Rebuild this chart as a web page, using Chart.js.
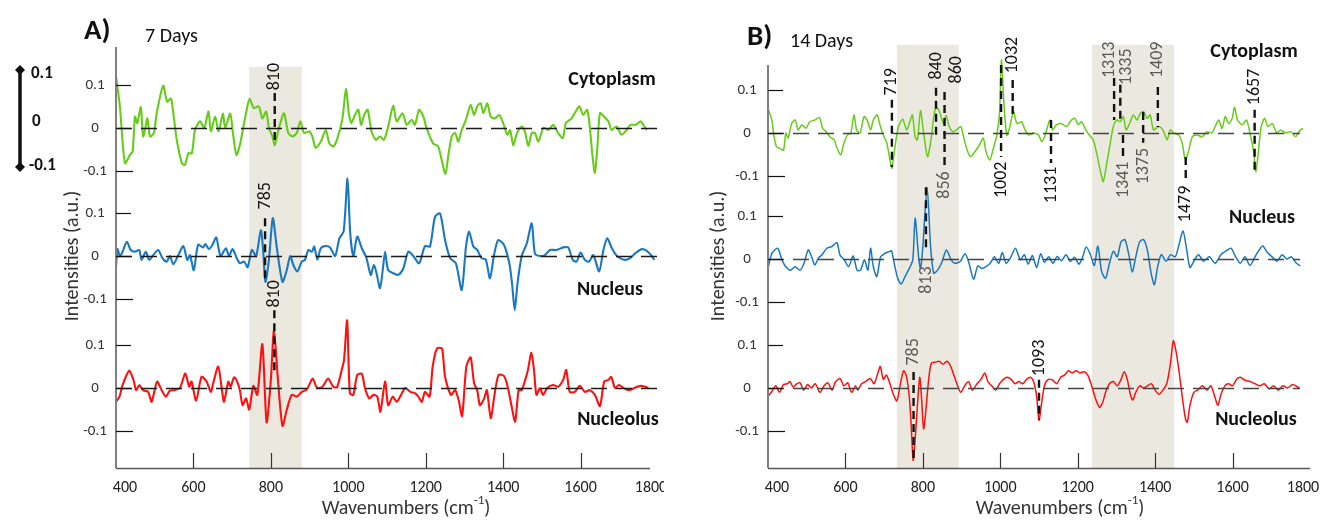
<!DOCTYPE html>
<html><head><meta charset="utf-8">
<script src="https://cdn.jsdelivr.net/npm/chart.js@4/dist/chart.umd.min.js"></script>
<style>
html,body{margin:0;padding:0;background:#fff;width:1328px;height:520px;overflow:hidden}
.wrap{position:absolute;top:0;width:664px;height:520px}
#wa{left:0}#wb{left:664px}
canvas{display:block}
</style></head><body>
<div class="wrap" id="wa"><canvas id="ca" width="664" height="520"></canvas></div>
<div class="wrap" id="wb"><canvas id="cb" width="664" height="520"></canvas></div>
<script>
// ---------- DATA (wavenumber cm-1, intensity a.u.) ----------
const xTicks = [400,600,800,1000,1200,1400,1600,1800];
const tickSteps = [-0.1, 0, 0.1];
const tickLabels = ['-0.1','0','0.1'];
const traceNames = ['Cytoplasm','Nucleus','Nucleolus'];

// Panel A – 7 days
const cytoA = [[400,.12],[410,.05],[423,-.082],[436,-.063],[443,-.055],[449,.026],[455,.011],[464,.048],[470,-.02],[476,0],[481,.022],[488,-.02],[498,-.012],[505,.034],[522,.098],[532,.061],[542,.068],[548,.034],[557,-.028],[570,-.082],[578,-.086],[587,-.059],[596,-.059],[604,-.005],[617,.015],[628,0],[639,.038],[645,-.008],[656,.026],[665,-.008],[676,.033],[682,0],[695,.033],[702,-.012],[711,-.063],[721,-.036],[734,.026],[745,.067],[756,.046],[769,.05],[778,.022],[788,.038],[795,0],[804,-.02],[810,-.04],[821,0],[834,.034],[845,-.012],[856,-.02],[867,-.012],[876,.015],[886,-.012],[899,-.008],[907,-.02],[916,-.047],[929,-.032],[942,-.005],[951,-.036],[962,-.043],[972,-.024],[985,.022],[994,.09],[1002,.03],[1008,.011],[1017,.03],[1026,.042],[1033,.007],[1041,.03],[1050,.042],[1060,-.008],[1071,-.028],[1082,-.02],[1092,-.028],[1103,.003],[1116,.051],[1125,.015],[1140,.034],[1151,.007],[1164,.019],[1172,.007],[1183,.042],[1194,.026],[1202,0],[1219,-.036],[1232,-.043],[1241,-.074],[1251,-.107],[1258,-.067],[1267,-.02],[1276,-.012],[1284,-.032],[1293,-.005],[1304,.019],[1316,.053],[1325,.03],[1333,.05],[1342,.057],[1349,.034],[1359,.057],[1368,.026],[1379,.022],[1390,.03],[1400,.011],[1411,-.016],[1418,-.005],[1426,-.04],[1436,-.012],[1448,.003],[1456,-.008],[1465,-.042],[1474,-.012],[1482,-.012],[1491,-.032],[1504,0],[1517,-.005],[1529,.007],[1542,-.012],[1554,-.024],[1562,.011],[1577,.022],[1590,.042],[1597,.05],[1607,.03],[1617,.042],[1624,0],[1631,-.067],[1637,-.105],[1643,-.051],[1650,.034],[1661,.026],[1672,.015],[1680,-.005],[1693,.003],[1706,-.016],[1719,-.005],[1729,.007],[1743,.007],[1755,.015],[1762,.007],[1771,-.005]];
const nucA = [[400,-.025],[404,.016],[410,0],[417,.01],[428,.033],[438,.014],[449,.01],[460,.014],[466,-.009],[477,.01],[486,-.009],[496,.002],[509,.014],[520,-.005],[531,-.013],[539,0],[548,-.019],[561,.002],[574,.023],[584,-.009],[591,.002],[601,-.033],[612,.026],[625,.02],[631,.028],[640,.016],[649,.026],[659,.043],[670,0],[684,.018],[692,0],[701,.016],[712,-.005],[720,-.017],[731,-.013],[740,-.026],[751,.014],[762,0],[774,.06],[780,.014],[786,-.06],[795,-.009],[805,.088],[815,.022],[830,-.06],[841,-.033],[850,0],[858,-.021],[868,-.036],[880,-.013],[888,-.009],[897,.014],[906,.01],[912,.022],[920,-.008],[929,.018],[940,.023],[953,.02],[966,0],[977,.041],[988,.057],[998,.18],[1005,.053],[1013,0],[1023,.045],[1035,.018],[1047,-.005],[1058,-.044],[1066,-.021],[1073,-.04],[1082,-.075],[1089,-.033],[1095,.01],[1103,-.033],[1116,-.04],[1129,-.044],[1142,-.029],[1155,.01],[1168,0],[1183,-.017],[1198,.023],[1211,.022],[1224,.091],[1237,.099],[1250,.037],[1263,-.005],[1278,-.017],[1293,-.079],[1304,.022],[1312,.057],[1323,.022],[1333,.014],[1344,-.005],[1355,-.008],[1366,-.052],[1376,0],[1387,.037],[1402,.026],[1416,-.017],[1423,-.064],[1430,-.126],[1437,-.064],[1448,0],[1461,.029],[1474,.076],[1482,.006],[1495,0],[1508,.002],[1521,.014],[1538,.014],[1555,.02],[1568,.02],[1580,-.009],[1590,-.013],[1600,.008],[1611,-.009],[1622,-.013],[1633,.002],[1648,-.036],[1659,.014],[1669,.041],[1680,.02],[1692,.002],[1702,-.005],[1715,-.009],[1728,-.005],[1741,.006],[1758,.016],[1771,.012],[1784,0],[1790,-.009]];
const ncloA = [[400,-.032],[409,-.02],[417,.007],[434,.04],[445,.019],[452,-.005],[460,.007],[470,-.005],[483,-.009],[492,-.032],[506,.015],[518,-.005],[529,-.02],[539,-.006],[550,-.005],[565,0],[579,.034],[589,.003],[595,.015],[607,-.029],[621,.026],[634,.015],[645,-.009],[651,.011],[664,.05],[673,0],[679,-.032],[690,.015],[696,.003],[705,.025],[713,.015],[720,-.005],[727,-.04],[736,-.024],[744,-.05],[755,.005],[765,-.016],[778,.102],[789,-.08],[800,.019],[808,.133],[819,.011],[830,-.088],[841,-.051],[854,-.016],[867,-.02],[880,-.009],[893,-.003],[908,.022],[918,.002],[927,0],[935,.005],[948,.022],[961,.003],[971,.002],[983,.042],[989,.065],[997,.157],[1004,-.012],[1013,-.016],[1023,.03],[1035,.033],[1043,0],[1054,-.024],[1065,-.016],[1075,-.02],[1083,-.055],[1095,.015],[1103,-.04],[1115,-.02],[1125,-.032],[1134,-.02],[1147,0],[1160,-.009],[1172,-.012],[1181,-.02],[1190,-.032],[1198,-.009],[1210,-.02],[1218,.05],[1229,.092],[1242,.092],[1250,.026],[1265,-.016],[1276,-.005],[1285,-.028],[1294,-.065],[1305,.05],[1316,.071],[1325,.011],[1333,-.005],[1340,-.04],[1351,-.024],[1358,-.005],[1368,-.07],[1377,-.02],[1388,.03],[1402,.028],[1412,.002],[1422,-.043],[1431,-.078],[1440,-.005],[1448,-.005],[1457,.019],[1464,.042],[1473,.082],[1480,.038],[1486,-.016],[1495,0],[1503,-.016],[1514,0],[1529,.007],[1542,.003],[1555,.019],[1563,.042],[1572,-.009],[1585,-.009],[1598,.005],[1611,-.009],[1624,-.005],[1637,-.016],[1650,-.042],[1661,.015],[1672,.019],[1679,.026],[1689,0],[1699,.007],[1711,0],[1724,-.005],[1739,0],[1754,.005],[1767,.003],[1775,0]];

// Panel B – 14 days
const cytoB = [[400,.057],[410,.03],[415,-.005],[422,-.032],[431,-.036],[440,-.04],[446,0],[452,-.012],[461,.022],[470,.03],[478,.007],[487,.019],[498,.011],[508,.026],[521,.03],[533,.036],[541,.011],[550,.003],[560,-.009],[571,-.016],[577,-.032],[588,-.051],[596,-.024],[605,-.005],[614,0],[622,.042],[629,.007],[638,0],[648,.038],[656,.03],[665,.007],[672,.03],[682,.042],[689,.019],[698,-.005],[707,-.024],[715,-.063],[720,-.082],[728,-.032],[737,.015],[748,.032],[758,.007],[765,.022],[773,.042],[780,-.009],[786,-.016],[794,.052],[801,.007],[812,-.055],[821,-.016],[827,.03],[834,.06],[843,.05],[853,.022],[860,.04],[868,.015],[877,.003],[887,.007],[898,.015],[904,-.005],[913,-.036],[923,-.055],[935,-.043],[946,-.028],[956,-.012],[963,-.043],[973,-.063],[982,-.036],[991,-.005],[998,.046],[1003,.17],[1010,.061],[1017,-.005],[1025,.015],[1034,.05],[1043,.022],[1055,.026],[1064,.007],[1073,-.005],[1086,0],[1099,-.005],[1107,-.02],[1116,-.005],[1128,.03],[1135,.007],[1145,.019],[1158,.022],[1171,.015],[1184,.03],[1193,.034],[1201,.019],[1210,.026],[1221,.007],[1230,-.005],[1240,-.016],[1249,-.047],[1258,-.086],[1266,-.113],[1275,-.071],[1284,-.024],[1292,.015],[1301,.03],[1310,.026],[1318,.038],[1325,.007],[1334,.022],[1344,.042],[1353,.03],[1362,.046],[1370,.05],[1379,.034],[1387,.042],[1396,.007],[1409,.015],[1420,.007],[1431,-.016],[1439,.007],[1448,0],[1461,-.005],[1470,-.024],[1478,-.063],[1487,-.04],[1496,-.009],[1509,-.005],[1521,-.009],[1534,.003],[1547,0],[1555,.015],[1564,.03],[1573,.011],[1581,.038],[1590,.022],[1599,.034],[1605,.06],[1613,.03],[1625,.019],[1636,.03],[1646,-.005],[1655,-.047],[1660,-.09],[1668,-.032],[1674,.015],[1683,.034],[1691,.015],[1703,.022],[1714,0],[1724,.007],[1737,0],[1750,.003],[1763,-.009],[1771,.003],[1782,.011]];
const nucB = [[400,-.022],[410,.013],[425,.025],[436,-.002],[446,-.018],[458,-.026],[470,-.018],[483,-.026],[493,-.01],[504,.021],[513,.004],[521,-.014],[530,.002],[539,.009],[552,.025],[565,.029],[578,.038],[586,.009],[597,-.002],[608,-.018],[620,.007],[630,-.026],[639,-.026],[649,-.002],[658,-.026],[665,.025],[672,-.018],[681,-.041],[691,.005],[702,.013],[713,.017],[719,.019],[726,-.01],[735,-.045],[744,-.058],[754,-.041],[765,-.022],[774,-.002],[780,.095],[789,.005],[794,-.022],[800,.029],[811,.167],[820,.029],[828,-.033],[838,-.026],[848,-.01],[861,.021],[873,-.002],[883,-.01],[896,-.006],[909,.012],[918,-.006],[931,-.047],[942,-.016],[952,-.022],[963,-.018],[974,-.01],[985,.005],[996,-.01],[1005,.015],[1015,-.01],[1026,.002],[1039,.025],[1052,-.002],[1062,.01],[1072,-.012],[1083,.008],[1094,-.02],[1104,.012],[1114,-.008],[1125,.005],[1136,-.01],[1147,.006],[1158,-.004],[1170,.01],[1181,-.006],[1192,.004],[1203,-.012],[1213,.005],[1222,.028],[1232,.012],[1243,-.015],[1252,.03],[1262,-.03],[1272,-.045],[1282,-.01],[1292,.018],[1302,.005],[1312,.04],[1322,.045],[1332,.01],[1341,-.03],[1350,.005],[1360,.04],[1370,.045],[1380,.02],[1390,-.035],[1398,-.06],[1406,-.02],[1416,.01],[1428,-.005],[1440,.01],[1452,.005],[1462,.035],[1472,.065],[1480,.03],[1490,-.02],[1500,-.005],[1512,.01],[1525,-.005],[1540,.005],[1555,-.01],[1570,.01],[1585,.02],[1596,.025],[1608,.005],[1620,-.01],[1632,.005],[1645,-.015],[1658,.005],[1668,.02],[1678,.03],[1690,.015],[1702,.005],[1715,-.005],[1728,.01],[1740,0],[1752,.005],[1765,-.01],[1775,-.016]];
const ncloB = [[400,-.02],[410,-.008],[420,.005],[430,-.01],[440,.008],[450,.01],[457,.015],[465,.002],[475,.01],[483,.012],[492,-.005],[502,.008],[512,0],[522,.01],[534,-.01],[545,.005],[555,.012],[565,-.005],[575,.015],[586,.022],[596,.005],[606,.012],[616,-.01],[626,.005],[632,-.005],[642,.01],[652,.015],[664,.022],[674,.01],[684,.035],[690,.05],[698,.02],[706,.03],[715,.01],[724,-.015],[733,-.03],[742,.01],[750,.04],[757,.03],[765,-.02],[770,-.09],[775,-.168],[780,-.12],[786,-.04],[792,.025],[797,-.03],[802,-.095],[808,-.05],[815,.02],[822,.058],[832,.06],[842,.062],[852,.055],[862,.062],[872,.05],[880,.03],[890,.005],[898,-.01],[908,.005],[918,.015],[928,-.005],[940,.01],[950,.02],[960,.035],[968,.015],[978,.005],[988,-.005],[998,.01],[1008,.02],[1018,.025],[1028,.02],[1038,.01],[1048,.015],[1058,.01],[1068,.02],[1078,.025],[1086,.015],[1094,-.02],[1100,-.075],[1106,-.04],[1114,.005],[1124,.02],[1136,.018],[1146,.01],[1156,.025],[1166,.03],[1176,.04],[1186,.035],[1196,.04],[1206,.035],[1216,.038],[1226,.03],[1236,.005],[1246,-.025],[1256,-.045],[1264,-.035],[1272,-.01],[1282,.01],[1292,.015],[1302,.005],[1312,.02],[1320,.038],[1328,.02],[1336,-.015],[1342,-.028],[1350,-.01],[1360,.005],[1370,0],[1380,.005],[1390,.01],[1400,-.005],[1410,-.015],[1420,-.005],[1430,.01],[1440,.06],[1447,.11],[1455,.08],[1463,.03],[1470,-.02],[1478,-.07],[1483,-.08],[1490,-.04],[1500,-.01],[1510,-.005],[1522,.005],[1534,-.005],[1544,.005],[1554,-.02],[1562,-.04],[1570,-.015],[1580,.005],[1590,.01],[1600,.005],[1610,.02],[1620,.025],[1632,.018],[1645,.015],[1658,.01],[1670,.005],[1682,.01],[1694,-.002],[1706,.005],[1718,-.005],[1730,.005],[1742,0],[1755,.008],[1767,.003],[1772,0]];

// shaded regions (cm-1)
const bandsA = [[744,880]];
const bandsB = [[733,893],[1237,1449]];

// peak annotations: wavenumber of marker line, label text, wavenumber of label
const peaksA = [[810,'810',810],[785,'785',787],[809,'810',810]];
const peaksB = [[720,'719',720],[834,'840',834],[856,'860',888],[856,'856',856],[1002,'1002',1002],[1032,'1032',1032],[1131,'1131',1131],[1294,'1313',1283],[1310,'1335',1327],[1317,'1341',1317],[1369,'1375',1369],[1407,'1409',1407],[1479,'1479',1479],[1657,'1657',1657],[808,'813',810],[776,'785',776],[1100,'1093',1100]];

// ---------- LAYOUT / STYLE ----------
const FF = 'Carlito, Lato, "Open Sans", sans-serif';
const colors = ['#66cc1a','#1a78c2','#ff1010'];
// annotation geometry in axis units: [lineFrom, lineTo, labelCenter, grey?, drawLine]
const annGeoA = [[0.686,0.565,0.724,0,1],[0.395,0.247,0.447,0,1],[0.181,0.037,0.219,0,1]];
const annGeoB = [[0.670,0.514,0.712,0,1],[0.698,0.588,0.749,0,1],[0,0,0.740,0,0],[0.688,0.514,0.472,1,1],[0.751,0.537,0.484,0,1],[0.716,0.630,0.774,0,1],[0.623,0.523,0.472,0,1],[0.721,0.623,0.763,1,1],[0.705,0.623,0.747,1,1],[0.588,0.530,0.484,1,1],[0.642,0.570,0.516,1,1],[0.700,0.607,0.763,1,1],[0.537,0.477,0.428,0,1],[0.647,0.507,0.700,0,1],[0.467,0.321,0.251,1,1],[0.037,-0.167,0.084,1,1],[0.019,-0.074,0.07,0,1]];

function txt(ctx,s,x,y,font,color,align,base){ctx.font=font;ctx.fillStyle=color;ctx.textAlign=align||'center';ctx.textBaseline=base||'middle';ctx.fillText(s,x,y);}
function vtxt(ctx,s,x,y,font,color){ctx.save();ctx.translate(x,y);ctx.rotate(-Math.PI/2);txt(ctx,s,0,0,font,color);ctx.restore();}

const deco = {
  id:'deco',
  beforeDatasetsDraw(chart,a,o){
    const ctx=chart.ctx,xs=chart.scales.x,ys=chart.scales.y,ca=chart.chartArea;
    ctx.save();ctx.fillStyle='#ebe8df';
    o.bands.forEach(b=>{const x1=xs.getPixelForValue(b[0]),x2=xs.getPixelForValue(b[1]);const yt=ys.getPixelForValue(o.bandTop);ctx.fillRect(x1,yt,x2-x1,ca.bottom-yt);});
    ctx.restore();
  },
  afterDatasetsDraw(chart,a,o){
    const ctx=chart.ctx,xs=chart.scales.x,ys=chart.scales.y,ca=chart.chartArea;
    ctx.save();
    ctx.strokeStyle=o.zeroColor;ctx.lineWidth=1.3;ctx.setLineDash([16,9]);
    o.offsets.forEach(off=>{const y=Math.round(ys.getPixelForValue(off))+0.5;ctx.beginPath();ctx.moveTo(ca.left,y);ctx.lineTo(o.zeroRight,y);ctx.stroke();});
    o.peaks.forEach((p,i)=>{
      const g=o.geo[i];const x=xs.getPixelForValue(p[0]);
      if(g[4]){ctx.strokeStyle='#111';ctx.lineWidth=2.4;ctx.setLineDash([8,5]);ctx.beginPath();ctx.moveTo(x,ys.getPixelForValue(g[0]));ctx.lineTo(x,ys.getPixelForValue(g[1]));ctx.stroke();}
      ctx.setLineDash([]);
      vtxt(ctx,p[1],xs.getPixelForValue(p[2]),ys.getPixelForValue(g[2]),'18px '+FF,g[3]?'#595959':'#111');
    });
    ctx.restore();
  },
  afterDraw(chart,a,o){
    const ctx=chart.ctx,xs=chart.scales.x,ys=chart.scales.y,ca=chart.chartArea;
    ctx.save();ctx.setLineDash([]);
    ctx.strokeStyle='#808080';ctx.lineWidth=2;ctx.beginPath();ctx.moveTo(ca.left,ca.top);ctx.lineTo(ca.left,ca.bottom);ctx.stroke();
    ctx.strokeStyle='#555';ctx.lineWidth=1.5;ctx.beginPath();ctx.moveTo(ca.left,ca.bottom+0.5);ctx.lineTo(o.xAxisRight,ca.bottom+0.5);ctx.stroke();
    ctx.lineWidth=1.2;ctx.strokeStyle='#333';
    xTicks.forEach((t,i)=>{const x=xs.getPixelForValue(t);
      if(i>0&&i<xTicks.length-1){ctx.beginPath();ctx.moveTo(Math.round(x)+0.5,ca.bottom);ctx.lineTo(Math.round(x)+0.5,ca.bottom-15);ctx.stroke();}
      const lx=Math.max(ca.left+9,Math.min(ca.right-7,x));
      txt(ctx,String(t),lx,ca.bottom+20,'16px '+FF,'#222');});
    ctx.strokeStyle='#111';ctx.lineWidth=1.2;
    o.offsets.forEach(off=>{tickSteps.forEach((s,k)=>{const y=Math.round(ys.getPixelForValue(off+s))+0.5;
      ctx.beginPath();ctx.moveTo(ca.left,y);ctx.lineTo(ca.left+(s<0?17:15),y);ctx.stroke();
      txt(ctx,tickLabels[k],ca.left-21,y,'15px '+FF,'#333');});});
    vtxt(ctx,'Intensities (a.u.)',o.yTitleX,ys.getPixelForValue(0.307),'20px '+FF,'#333');
    ctx.font='20px '+FF;const w1=ctx.measureText('Wavenumbers (cm').width;ctx.font='13px '+FF;const w2=ctx.measureText('-1').width;ctx.font='20px '+FF;const w3=ctx.measureText(')').width;
    let sx=o.xTitleX-(w1+w2+w3)/2;
    txt(ctx,'Wavenumbers (cm',sx,509,'20px '+FF,'#333','left');
    txt(ctx,'-1',sx+w1,501,'13px '+FF,'#333','left');
    txt(ctx,')',sx+w1+w2,509,'20px '+FF,'#333','left');
    txt(ctx,o.panel,o.panelX,o.panelY,'bold 29px '+FF,'#111','left','alphabetic');
    txt(ctx,o.days,o.daysX,o.daysY,'20px '+FF,'#111','left','alphabetic');
    traceNames.forEach((n,i)=>txt(ctx,n,o.names[i][0],o.names[i][1],'bold 20px '+FF,'#111'));
    if(o.scaleBar){
      ctx.strokeStyle='#111';ctx.lineWidth=3.5;ctx.beginPath();ctx.moveTo(20,70);ctx.lineTo(20,167);ctx.stroke();
      ctx.fillStyle='#111';[70,167].forEach(y=>{ctx.beginPath();ctx.moveTo(20,y-5);ctx.lineTo(25,y);ctx.lineTo(20,y+5);ctx.lineTo(15,y);ctx.closePath();ctx.fill();});
      txt(ctx,'0.1',31,74,'bold 17px '+FF,'#111','left');
      txt(ctx,'0',32,122,'bold 17px '+FF,'#111','left');
      txt(ctx,'-0.1',29,166,'bold 17px '+FF,'#111','left');
    }
    ctx.restore();
  }
};

function makePanel(id,series,offsets,yMin,yMax,pad,lw,deco_opts){
  return new Chart(document.getElementById(id),{
    type:'line',
    data:{datasets:series.map((s,i)=>({data:s.map(p=>({x:p[0],y:p[1]+offsets[i]})),borderColor:colors[i],borderWidth:lw,pointRadius:0,tension:0.25,fill:false,clip:false}))},
    options:{responsive:false,animation:false,devicePixelRatio:1,events:[],
      layout:{padding:pad},
      scales:{x:{type:'linear',min:400,max:1800,display:false},y:{type:'linear',min:yMin,max:yMax,display:false}},
      plugins:{legend:{display:false},tooltip:{enabled:false},deco:deco_opts}},
    plugins:[deco]
  });
}

const offA=[0.605,0.307,0], offB=[0.593,0.300,0];
makePanel('ca',[cytoA,nucA,ncloA],offA,-0.186,0.793,{left:116,right:6,top:47,bottom:52},2.1,
  {bands:bandsA,bandTop:0.747,offsets:offA,zeroColor:'#1a1a1a',zeroRight:658,xAxisRight:650,peaks:peaksA,geo:annGeoA,
   yTitleX:73,xTitleX:406,panel:'A)',panelX:84,panelY:39,days:'7 Days',daysX:145,daysY:42,
   names:[[612,80],[610,290],[618,420]],scaleBar:true});
makePanel('cb',[cytoB,nucB,ncloB],offB,-0.186,0.751,{left:104,right:18,top:65,bottom:52},1.5,
  {bands:bandsB,bandTop:0.798,offsets:offB,zeroColor:'#444',zeroRight:636,xAxisRight:646,peaks:peaksB,geo:annGeoB,
   yTitleX:55,xTitleX:396,panel:'B)',panelX:83,panelY:45,days:'14 Days',daysX:126,daysY:47,
   names:[[590,52],[598,218],[592,420]],scaleBar:false});
</script>
</body></html>
